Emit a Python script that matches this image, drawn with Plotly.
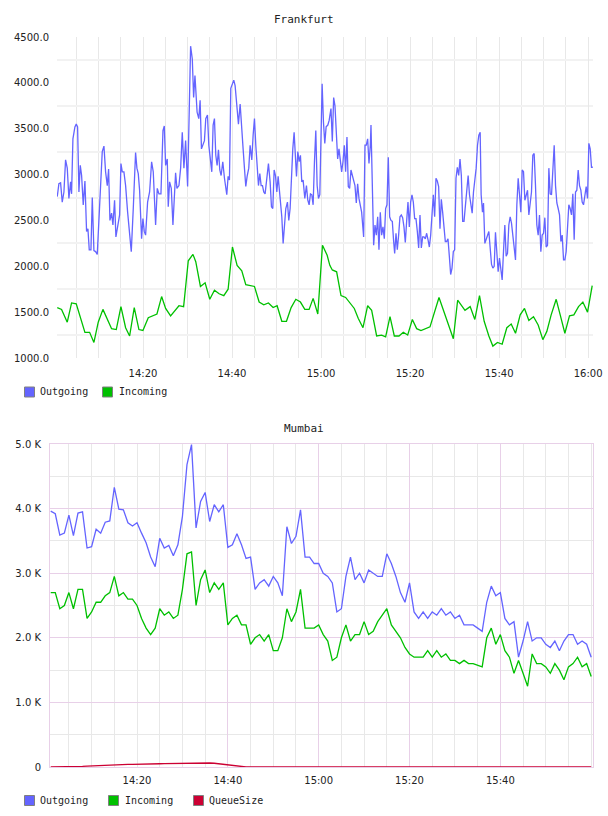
import pandas as pd
import plotly.graph_objects as go

BASE = pd.Timestamp("2024-01-01 14:00:00")

# ---------------- Frankfurt data (minutes after 14:00, value) ----------------
fra_out = [
    (0.73, 2760), (1.10, 2900), (1.48, 2910), (1.85, 2700), (2.23, 2810), (2.60, 3160), (2.98, 3070), (3.35, 2740),
    (3.73, 2920), (3.95, 2790), (4.25, 3390), (4.70, 3520), (5.00, 3550), (5.30, 3520), (5.60, 2810), (5.90, 3100),
    (6.20, 2990), (6.57, 2670), (6.95, 2930), (7.32, 2380), (7.62, 2410), (7.92, 2180), (8.30, 2180), (8.60, 2750),
    (8.97, 2170), (9.34, 2160), (9.72, 2130), (10.09, 2490), (10.84, 3250), (11.22, 3310), (11.59, 3030), (11.97, 2880),
    (12.27, 3060), (12.57, 2500), (12.94, 2580), (13.24, 2450), (13.61, 2720), (13.91, 2320), (14.36, 2470), (14.74, 2560),
    (15.04, 3120), (15.34, 3030), (15.71, 3030), (16.09, 2880), (16.54, 2590), (16.99, 2340), (17.36, 2160), (17.81, 2630),
    (18.33, 3240), (18.63, 3070), (18.93, 3010), (19.23, 2830), (19.68, 2300), (19.98, 2520), (20.28, 2380), (20.58, 2340),
    (21.03, 2700), (21.48, 2810), (21.93, 3140), (22.30, 3030), (22.83, 2450), (23.20, 2850), (23.58, 2790), (24.03, 2790),
    (24.48, 3480), (24.78, 3530), (25.08, 3100), (25.45, 3170), (25.67, 2650), (25.97, 2920), (26.35, 2850), (26.72, 2450),
    (27.02, 2760), (27.32, 3020), (27.62, 2850), (28.07, 2880), (28.45, 3070), (28.82, 3460), (29.19, 3070), (29.57, 3370),
    (30.02, 2870), (30.69, 4400), (31.07, 4260), (31.37, 3840), (31.67, 4080),
    (31.85, 3900), (32.15, 3680), (32.53, 3610), (32.83, 3810), (33.13, 3280), (33.50, 3320), (33.80, 3370), (34.10, 3610),
    (34.48, 3650), (34.78, 3320), (35.15, 3170), (35.45, 3030), (35.75, 3540), (36.05, 3610), (36.35, 3210), (36.65, 3100),
    (36.95, 3270), (37.25, 3050), (37.55, 2990), (37.92, 3140), (38.30, 2960), (38.60, 2810), (38.82, 2780), (39.12, 2980),
    (39.42, 2940), (39.72, 3940), (40.09, 3990), (40.39, 4030), (40.69, 3970), (41.07, 3770), (41.44, 3550), (41.82, 3770),
    (42.12, 3480), (42.49, 3280), (42.79, 3070), (43.09, 2870), (43.39, 2980), (43.76, 3070), (44.06, 3320), (44.44, 3160),
    (44.74, 3430), (45.04, 3610), (45.34, 3320), (45.64, 3030), (45.94, 2880), (46.24, 3010), (46.54, 2880), (46.84, 2880),
    (47.13, 2810), (47.43, 2790), (47.81, 2980), (48.18, 3120), (48.56, 2920), (48.86, 2650), (49.16, 2630), (49.46, 3050),
    (49.76, 2990), (50.06, 2810), (50.36, 2980), (50.66, 2810), (50.96, 2720), (51.18, 2540), (51.48, 2250), (51.78, 2430),
    (52.08, 2630), (52.45, 2700), (52.75, 2500), (53.05, 2630), (53.35, 2990), (53.65, 3280), (53.95, 3460), (54.18, 3280),
    (54.48, 2980), (54.78, 3250), (55.08, 3140), (55.37, 3210), (55.67, 2920), (55.97, 2940), (56.35, 2740), (56.72, 2880),
    (57.02, 2720), (57.32, 2670), (57.62, 2790), (57.92, 2780), (58.22, 2670), (58.52, 3140), (58.82, 3480), (59.12, 2880),
    (59.42, 2740), (59.72, 2780), (60.02, 3430), (60.24, 3990), (60.54, 3570), (60.84, 3340), (61.14, 3520), (61.52, 3540),
    (61.82, 3590),
    (62.23, 3720), (62.53, 3360), (62.83, 3840), (63.13, 3750), (63.43, 3460), (63.73, 3170), (64.03, 3280), (64.33, 3170),
    (64.63, 3030), (64.93, 3140), (65.22, 3320), (65.52, 3030), (65.82, 3410), (66.12, 2870), (66.42, 2850), (66.72, 3050),
    (67.02, 2990), (67.32, 2960), (67.62, 2880), (67.92, 2690), (68.22, 2900), (68.52, 2740), (68.82, 2670), (69.12, 2590),
    (69.57, 2320), (69.87, 3320), (70.17, 3320), (70.47, 3390), (70.77, 3120), (71.07, 3320), (71.22, 3540), (71.52, 2880),
    (71.82, 2230), (72.12, 2450), (72.42, 2340), (72.72, 2540), (73.01, 2180), (73.31, 2590), (73.61, 2340), (73.91, 2430),
    (74.21, 2300), (74.51, 2630), (74.81, 2670), (75.11, 3190), (75.41, 2540), (75.71, 2500), (76.01, 2490), (76.31, 2270),
    (76.54, 2140), (76.84, 2360), (77.13, 2180), (77.43, 2340), (77.73, 2540), (78.03, 2560), (78.33, 2530), (78.63, 2430),
    (78.93, 2260), (79.23, 2490), (79.53, 2700), (79.83, 2430), (80.13, 2700), (80.43, 2780), (80.73, 2700), (81.03, 2520),
    (81.33, 2520), (81.63, 2380), (81.93, 2200), (82.23, 2560), (82.53, 2200), (82.83, 2320), (83.13, 2320), (83.43, 2300),
    (83.73, 2360), (84.03, 2290), (84.33, 2210), (84.63, 2340), (84.93, 2540), (85.22, 2780), (85.52, 2540), (85.82, 2960),
    (86.12, 2930), (86.42, 2870), (86.72, 2410), (87.02, 2730), (87.32, 2590), (87.62, 2430), (87.92, 2270), (88.22, 2270),
    (88.52, 2300), (88.82, 2110), (89.12, 1910), (89.42, 1980), (89.72, 2160), (90.02, 2180), (90.32, 2960), (90.62, 3080),
    (90.92, 2990), (91.22, 3170), (91.52, 2990), (91.82, 2490), (92.12, 2490),
    (92.45, 2670), (92.75, 2810), (93.05, 2990), (93.35, 2780), (93.65, 2700), (93.95, 2580), (94.25, 2810), (94.55, 2920),
    (94.85, 3070), (95.15, 3320), (95.45, 3430), (95.75, 3460), (95.97, 2780), (96.27, 2590), (96.50, 2690), (96.80, 2250),
    (97.10, 2300), (97.40, 2340), (97.70, 2380), (98.00, 2200), (98.30, 2020), (98.60, 1980), (98.90, 2000), (99.19, 2370),
    (99.49, 2160), (99.79, 1940), (100.09, 2090), (100.39, 1980), (100.69, 1850), (100.99, 2160), (101.29, 2450), (101.59, 2110),
    (101.89, 2140), (102.19, 2450), (102.49, 2540), (102.79, 2470), (103.09, 2340), (103.39, 2200), (103.69, 2070), (103.99, 2670),
    (104.29, 2960), (104.59, 2780), (104.89, 2590), (105.19, 3050), (105.49, 3030), (105.79, 2720), (106.09, 2780), (106.39, 2830),
    (106.69, 2560), (106.99, 2700), (107.28, 2810), (107.58, 3210), (107.88, 3230), (108.18, 2880), (108.48, 2450), (108.78, 2340),
    (109.08, 2560), (109.38, 2160), (109.68, 2340), (109.98, 2360), (110.28, 2530), (110.58, 2210), (110.88, 2230), (111.18, 3070),
    (111.48, 2790), (111.78, 2780), (112.08, 3070), (112.38, 3320), (112.68, 2880), (112.98, 2690), (113.28, 2630), (113.58, 2560),
    (113.88, 2270), (114.18, 2340), (114.48, 2070), (114.78, 2070), (115.07, 2160), (115.37, 2450), (115.67, 2670), (115.97, 2630),
    (116.27, 2560), (116.57, 2790), (116.87, 2290), (117.17, 2810), (117.47, 2830), (117.77, 3050), (118.07, 2880), (118.37, 2830),
    (118.67, 2700), (118.97, 2670), (119.27, 2790), (119.57, 2870), (119.87, 2740), (120.17, 3340), (120.47, 3280), (120.76, 3080),
    (121.06, 3080),
]

fra_in = [
    (0.73, 1550), (1.70, 1530), (2.98, 1390), (3.95, 1600), (5.00, 1590), (6.95, 1280), (8.00, 1280), (8.97, 1170),
    (9.94, 1390), (10.99, 1530), (12.94, 1320), (13.99, 1310), (15.04, 1560), (16.09, 1330), (16.99, 1240), (18.03, 1550),
    (19.08, 1310), (19.98, 1300), (21.18, 1440), (23.13, 1480), (24.18, 1670), (25.08, 1540), (26.20, 1460), (28.07, 1570),
    (29.12, 1560), (30.17, 2060), (31.22, 2130), (31.85, 2050), (32.90, 1780), (33.95, 1820), (35.00, 1640), (36.05, 1740),
    (37.10, 1700), (38.15, 1680), (39.12, 1750), (40.09, 2210), (41.14, 2010), (42.19, 1950), (43.09, 1800), (45.04, 1780),
    (46.09, 1610), (47.13, 1580), (48.18, 1600), (49.23, 1550), (50.13, 1570), (51.18, 1400), (52.23, 1400), (53.28, 1550),
    (54.33, 1640), (55.37, 1610), (56.35, 1530), (57.32, 1530), (58.22, 1650), (59.27, 1480), (60.32, 2230), (61.37, 2120),
    (61.97, 2010), (62.53, 1960), (63.50, 1940), (64.48, 1680), (65.52, 1660), (66.50, 1600), (67.47, 1540), (68.37, 1430),
    (69.42, 1330), (70.47, 1570), (71.37, 1520), (72.49, 1240), (73.61, 1250), (74.51, 1230), (75.49, 1450), (76.46, 1240),
    (77.51, 1240), (78.48, 1280), (79.46, 1250), (80.51, 1420), (81.48, 1320), (82.45, 1300), (83.50, 1320), (84.48, 1340),
    (86.50, 1660), (89.72, 1210), (90.69, 1630), (92.34, 1520), (93.50, 1560), (94.55, 1420), (95.60, 1680), (96.65, 1400),
    (97.70, 1240), (98.60, 1130), (99.64, 1170), (100.69, 1150), (101.74, 1330), (102.72, 1370), (103.69, 1270), (104.74, 1470),
    (105.71, 1540), (106.69, 1410), (107.73, 1450), (108.78, 1360), (109.83, 1200), (110.73, 1290), (111.70, 1470), (112.83, 1640),
    (113.73, 1470), (114.78, 1270), (115.82, 1460), (116.80, 1470), (117.85, 1560), (118.82, 1610), (119.87, 1500), (120.92, 1790),
]

fra_yticks = [1000, 1500, 2000, 2500, 3000, 3500, 4000, 4500]
fra_ygrid = [1250, 1750, 2250, 2750, 3250, 3750, 4250]
time_labels = ["14:20", "14:40", "15:00", "15:20", "15:40", "16:00"]
time_label_min = [20, 40, 60, 80, 100, 120]

# ---------------- Mumbai data (one sample per minute, 14:01 .. 16:00) ----------------
mum_min = list(range(1, 121))
mum_out = [
    3960, 3920, 3590, 3620, 3900, 3580, 3930, 3950, 3390, 3410,
    3680, 3620, 3790, 3810, 4330, 3990, 3980, 3780, 3730, 3780,
    3620, 3470, 3250, 3100, 3540, 3390, 3430, 3270, 3440, 3880,
    4680, 4990, 3700, 4110, 4250, 3800, 4060, 3950, 4060, 3400,
    3440, 3610, 3440, 3230, 3250, 2750, 2850, 2900, 2800, 2950,
    2850, 2650, 3720, 3460, 3570, 3980, 3250, 3250, 3150, 3150,
    3000, 2950, 2850, 2400, 2450, 2950, 3250, 2900, 3000, 2850,
    3050, 3000, 2950, 2950, 3300, 3150, 2950, 2700, 2550, 2850,
    2400, 2300, 2400, 2300, 2400, 2350, 2450, 2350, 2400, 2300,
    2350, 2200, 2200, 2200, 2150, 2100, 2550, 2800, 2650, 2700,
    2300, 2200, 2250, 1700, 1950, 2250, 1950, 2000, 2000, 1900,
    1850, 1950, 1800, 1950, 2050, 2050, 1900, 1950, 1900, 1700,
]
mum_in = [
    2700, 2700, 2450, 2500, 2700, 2450, 2750, 2750, 2300, 2400,
    2550, 2550, 2650, 2700, 2950, 2650, 2700, 2600, 2600, 2500,
    2300, 2150, 2050, 2150, 2450, 2350, 2400, 2300, 2350, 2750,
    3300, 3330, 2500, 2900, 3050, 2700, 2850, 2750, 2850, 2200,
    2300, 2350, 2200, 2200, 1900, 2000, 2050, 1950, 2050, 1800,
    1800, 2000, 2450, 2250, 2400, 2750, 2150, 2150, 2150, 2200,
    2050, 1950, 1650, 1700, 2000, 2200, 1950, 2050, 2050, 2250,
    2050, 2100, 2250, 2350, 2450, 2200, 2100, 2000, 1850, 1750,
    1700, 1700, 1700, 1800, 1700, 1800, 1700, 1750, 1650, 1650,
    1600, 1650, 1600, 1600, 1580, 1550, 2000, 2150, 1900, 2050,
    1800, 1700, 1450, 1650, 1450, 1250, 1750, 1600, 1600, 1550,
    1450, 1600, 1500, 1350, 1550, 1600, 1700, 1550, 1600, 1400,
]
mum_queue = [
    0, 0, 0, 0, 0, 3, 6, 10, 14, 18,
    22, 26, 30, 34, 38, 40, 42, 42, 40, 40,
    42, 44, 46, 48, 50, 52, 54, 55, 56, 58,
    59, 60, 61, 62, 62, 62, 58, 50, 40, 30,
    20, 10, 3, 0, 0, 0, 0, 0, 0, 0,
] + [0] * 70
mum_yticks = [0, 1000, 2000, 3000, 4000, 5000]
mum_ytext = ["0", "1.0 K", "2.0 K", "3.0 K", "4.0 K", "5.0 K"]
mum_time_labels = ["14:20", "14:40", "15:00", "15:20", "15:40"]
mum_time_min = [20, 40, 60, 80, 100]
mum_major_grid_min = [40, 60, 80, 100]

# legend entries
fra_legend = ["Outgoing", "Incoming"]
mum_legend = ["Outgoing", "Incoming", "QueueSize"]

# ---------------- styles ----------------
C_OUT = "#6464ff"
C_IN = "#00c000"
C_Q = "#cc0033"
TXT = "#222222"
MONO = "DejaVu Sans Mono"
SANS = "DejaVu Sans"
PINK = "#e8d0e8"
GRID = "#e8e8e8"
W, H = 608, 816


def tm(mins):
    return [BASE + pd.Timedelta(minutes=m) for m in mins]


def px_x(p):
    return p / W


def px_y(p):
    return (H - p) / H


fig = go.Figure()

fig.add_trace(go.Scatter(x=tm([p[0] for p in fra_out]), y=[p[1] for p in fra_out], mode="lines", name="Outgoing",
                         line=dict(color=C_OUT, width=1.3), xaxis="x", yaxis="y", showlegend=False, hoverinfo="skip"))
fig.add_trace(go.Scatter(x=tm([p[0] for p in fra_in]), y=[p[1] for p in fra_in], mode="lines", name="Incoming",
                         line=dict(color=C_IN, width=1.3), xaxis="x", yaxis="y", showlegend=False, hoverinfo="skip"))
fig.add_trace(go.Scatter(x=tm(mum_min), y=mum_out, mode="lines", name="Outgoing", line=dict(color=C_OUT, width=1.3),
                         xaxis="x2", yaxis="y2", showlegend=False, hoverinfo="skip"))
fig.add_trace(go.Scatter(x=tm(mum_min), y=mum_in, mode="lines", name="Incoming", line=dict(color=C_IN, width=1.3),
                         xaxis="x2", yaxis="y2", showlegend=False, hoverinfo="skip"))
fig.add_trace(go.Scatter(x=tm(mum_min), y=mum_queue, mode="lines", name="QueueSize", line=dict(color=C_Q, width=1.3),
                         xaxis="x2", yaxis="y2", showlegend=False, hoverinfo="skip"))
# empty trace so the label-only time axis of the Mumbai panel is instantiated
fig.add_trace(go.Scatter(x=[None], y=[None], mode="lines", xaxis="x3", yaxis="y2", showlegend=False,
                         hoverinfo="skip"))

tickfont = dict(family=SANS, size=10, color=TXT)

annotations = [
    dict(text="Frankfurt", x=0.5, y=px_y(19), xref="paper", yref="paper", showarrow=False,
         font=dict(family=MONO, size=11, color=TXT), xanchor="center", yanchor="middle"),
    dict(text="Mumbai", x=0.5, y=px_y(428), xref="paper", yref="paper", showarrow=False,
         font=dict(family=MONO, size=11, color=TXT), xanchor="center", yanchor="middle"),
]
shapes = []
legend_rows = [
    (fra_legend, [C_OUT, C_IN], [24, 102], [38, 117], 392),
    (mum_legend, [C_OUT, C_IN, C_Q], [24, 108, 193], [38, 123, 207], 800.5),
]
for names, cols, sx, tx, cy in legend_rows:
    for name, col, s, t in zip(names, cols, sx, tx):
        shapes.append(dict(type="rect", xref="paper", yref="paper",
                           x0=px_x(s + 0.5), x1=px_x(s + 10.5), y0=px_y(cy + 5), y1=px_y(cy - 5),
                           fillcolor=col, line=dict(color="#808080", width=1), layer="above"))
        annotations.append(dict(text=name, x=px_x(t), y=px_y(cy), xref="paper", yref="paper", showarrow=False,
                                font=dict(family=MONO, size=10, color=TXT), xanchor="left", yanchor="middle"))

mum_range = tm([0.84, 120.4])

fig.update_layout(
    width=W, height=H, autosize=False,
    margin=dict(l=0, r=0, t=0, b=0, autoexpand=False),
    paper_bgcolor="white", plot_bgcolor="white",
    showlegend=False,
    xaxis=dict(
        domain=[px_x(57), px_x(593)], anchor="y", automargin=False,
        range=tm([0.674, 121.1]),
        tickmode="array", tickvals=tm(time_label_min), ticktext=time_labels,
        showgrid=True, gridcolor=GRID, gridwidth=1,
        minor=dict(dtick=5 * 60 * 1000, tick0=BASE, showgrid=True, gridcolor=GRID, gridwidth=1),
        showline=False, zeroline=False, ticks="", tickfont=tickfont, ticklabelstandoff=8,
    ),
    yaxis=dict(
        domain=[px_y(358), px_y(37)], anchor="x", automargin=False,
        range=[1000, 4500],
        tickmode="array", tickvals=fra_yticks, ticktext=[f"{v:.1f}" for v in fra_yticks],
        showgrid=False,
        minor=dict(tickmode="array", tickvals=fra_ygrid, showgrid=True, gridcolor="#f2f2f2", gridwidth=2),
        showline=False, zeroline=False, ticks="", tickfont=tickfont, ticklabelstandoff=7,
    ),
    xaxis2=dict(
        domain=[px_x(50), px_x(593)], anchor="y2", automargin=False,
        range=mum_range,
        tickmode="array", tickvals=tm(mum_major_grid_min), showticklabels=False,
        showgrid=True, gridcolor=PINK, gridwidth=1,
        minor=dict(dtick=5 * 60 * 1000, tick0=BASE, showgrid=True, gridcolor=GRID, gridwidth=1),
        showline=True, mirror=True, linecolor=PINK, linewidth=1,
        zeroline=False, ticks="",
    ),
    xaxis3=dict(
        overlaying="x2", anchor="y2", side="bottom", automargin=False,
        range=mum_range, type="date",
        tickmode="array", tickvals=tm(mum_time_min), ticktext=mum_time_labels,
        showgrid=False, showline=False, zeroline=False, ticks="",
        tickfont=tickfont, ticklabelstandoff=6,
    ),
    yaxis2=dict(
        domain=[px_y(767), px_y(444)], anchor="x2", automargin=False,
        range=[0, 5000],
        tickmode="array", tickvals=mum_yticks, ticktext=mum_ytext,
        showgrid=True, gridcolor=PINK, gridwidth=1,
        minor=dict(dtick=500, showgrid=True, gridcolor=GRID, gridwidth=1),
        showline=True, mirror=True, linecolor=PINK, linewidth=1,
        zeroline=False, ticks="", tickfont=tickfont, ticklabelstandoff=6,
    ),
    annotations=annotations,
    shapes=shapes,
)

fig.write_html("out.html")
